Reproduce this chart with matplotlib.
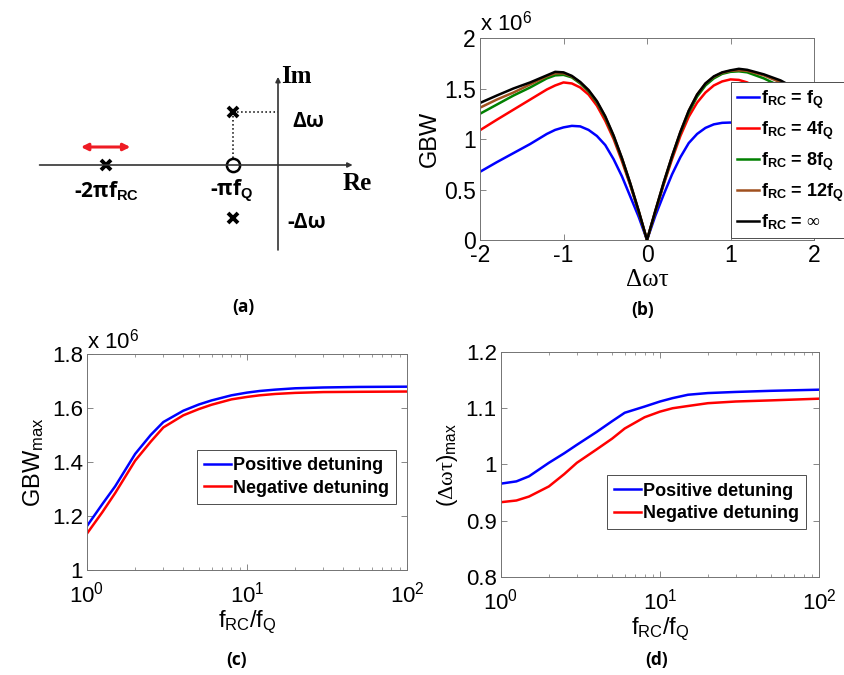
import matplotlib
matplotlib.use('Agg')
import matplotlib.pyplot as plt

plt.rcParams['font.family'] = ['Liberation Sans', 'DejaVu Sans']
plt.rcParams['axes.unicode_minus'] = False
plt.rcParams['mathtext.fontset'] = 'custom'
plt.rcParams['mathtext.rm'] = 'Liberation Serif'
plt.rcParams['mathtext.it'] = 'Liberation Serif'
plt.rcParams['mathtext.sf'] = 'Liberation Sans'
plt.rcParams['mathtext.bf'] = 'Liberation Sans:bold'

# (b) GBW against detuning, values in units of 1e6
dwt = [-2.0, -1.8, -1.6, -1.4, -1.2, -1.1, -1.0, -0.9, -0.8, -0.7, -0.6, -0.5,
       -0.4, -0.3, -0.2, -0.1, 0.0, 0.1, 0.2, 0.3, 0.4, 0.5, 0.6, 0.7, 0.8,
       0.9, 1.0, 1.1, 1.2, 1.4, 1.6, 1.8, 2.0]
gbw_1 = [0.675, 0.77, 0.86, 0.95, 1.05, 1.09, 1.115, 1.13, 1.125, 1.09, 1.03, 0.94,
         0.80, 0.63, 0.43, 0.23, 0.0, 0.24, 0.45, 0.65, 0.82, 0.96, 1.05, 1.11, 1.145,
         1.16, 1.163, 1.15, 1.12, 1.05, 0.98, 0.91, 0.84]
gbw_4 = [1.087, 1.19, 1.29, 1.39, 1.49, 1.53, 1.56, 1.55, 1.51, 1.44, 1.33, 1.18,
         1.00, 0.78, 0.54, 0.28, 0.0, 0.28, 0.55, 0.80, 1.03, 1.22, 1.36, 1.46, 1.53,
         1.57, 1.59, 1.585, 1.56, 1.47, 1.35, 1.22, 1.10]
gbw_8 = [1.25, 1.34, 1.43, 1.51, 1.60, 1.63, 1.635, 1.61, 1.55, 1.47, 1.36, 1.21,
         1.02, 0.80, 0.55, 0.28, 0.0, 0.28, 0.56, 0.82, 1.06, 1.26, 1.42, 1.53, 1.60,
         1.645, 1.665, 1.67, 1.66, 1.60, 1.52, 1.42, 1.32]
gbw_12 = [1.31, 1.39, 1.46, 1.54, 1.62, 1.65, 1.65, 1.62, 1.56, 1.48, 1.37, 1.22,
          1.03, 0.81, 0.56, 0.29, 0.0, 0.29, 0.57, 0.83, 1.07, 1.28, 1.44, 1.55, 1.615,
          1.655, 1.675, 1.68, 1.675, 1.63, 1.56, 1.47, 1.37]
gbw_inf = [1.357, 1.43, 1.50, 1.56, 1.63, 1.665, 1.66, 1.625, 1.565, 1.485, 1.375, 1.225,
           1.035, 0.81, 0.56, 0.29, 0.0, 0.29, 0.57, 0.83, 1.07, 1.28, 1.44, 1.55, 1.62,
           1.66, 1.68, 1.695, 1.685, 1.64, 1.58, 1.49, 1.39]
labels_b = [r'f$_{\mathbf{RC}}$ = f$_{\mathbf{Q}}$',
            r'f$_{\mathbf{RC}}$ = 4f$_{\mathbf{Q}}$',
            r'f$_{\mathbf{RC}}$ = 8f$_{\mathbf{Q}}$',
            r'f$_{\mathbf{RC}}$ = 12f$_{\mathbf{Q}}$',
            r'f$_{\mathbf{RC}}$ = $\infty$']
colors_b = ['#0000ff', '#ff0000', '#008000', '#a0501e', '#000000']

# (c), (d) peak GBW and its detuning against f_RC/f_Q
ratio = [1, 1.25, 1.5, 2, 2.5, 3, 4, 5, 6, 8, 10, 12, 15, 20, 30, 50, 100]
gbw_max_pos = [1.163, 1.245, 1.31, 1.43, 1.50, 1.548, 1.59, 1.613, 1.628, 1.647, 1.657,
               1.663, 1.668, 1.673, 1.676, 1.678, 1.679]
gbw_max_neg = [1.135, 1.215, 1.285, 1.405, 1.475, 1.528, 1.573, 1.596, 1.612, 1.632,
               1.641, 1.647, 1.652, 1.656, 1.659, 1.660, 1.661]
dwt_max_pos = [0.966, 0.970, 0.979, 1.003, 1.020, 1.035, 1.058, 1.077, 1.092, 1.103,
               1.112, 1.118, 1.124, 1.127, 1.129, 1.131, 1.133]
dwt_max_neg = [0.933, 0.936, 0.943, 0.961, 0.983, 1.003, 1.027, 1.046, 1.064, 1.084,
               1.094, 1.100, 1.104, 1.109, 1.112, 1.114, 1.117]
labels_cd = ['Positive detuning', 'Negative detuning']

# (a) pole-zero sketch, arbitrary units
pole_re = [-3.82, -1.0, -1.0]
pole_im = [0.0, 1.17, -1.17]
zero_re = [-1.0]
zero_im = [0.0]

W, H = 844, 675
fig = plt.figure(figsize=(W / 100, H / 100), dpi=100)


def px_axes(left, right, top, bottom):
    return fig.add_axes([left / W, 1 - bottom / H, (right - left) / W, (bottom - top) / H])


def matlab_style(ax, size, xpad=3):
    for s in ax.spines.values():
        s.set_color('0.45')
        s.set_linewidth(0.7)
    ax.tick_params(which='both', direction='in', top=True, right=True,
                   color='0.45', labelsize=size, pad=3)
    ax.tick_params(axis='x', pad=xpad)
    ax.tick_params(which='major', length=4, width=0.6)
    ax.tick_params(which='minor', length=2.5, width=0.5)


# ---- (a)
ax = px_axes(0, 422, 40, 290)
ax.set_xlim(-278 / 45, 144 / 45)
ax.set_ylim(-125 / 45, 125 / 45)
ax.axis('off')
ax.annotate('', xy=(1.72, 0), xytext=(-5.36, 0),
            arrowprops=dict(arrowstyle='-|>', lw=1.2, color='0.2', mutation_scale=7))
ax.annotate('', xy=(0, 2.02), xytext=(0, -1.95),
            arrowprops=dict(arrowstyle='-|>', lw=1.2, color='0.2', mutation_scale=7))
ax.plot([pole_re[1], 0], [pole_im[1], pole_im[1]], ':', color='k', lw=1.1)
ax.plot([pole_re[1], pole_re[1]], [zero_im[0] + 0.15, pole_im[1]], ':', color='k', lw=1.1)
ax.plot(pole_re, pole_im, 'x', ms=7, mew=2.8, color='k')
ax.plot(zero_re, zero_im, 'o', ms=9.5, mfc='white', mec='k', mew=1.8)
ax.annotate('', xy=(-4.38, 0.4), xytext=(-3.28, 0.4),
            arrowprops=dict(arrowstyle='<|-|>', lw=2.2, color='#ee1c24', mutation_scale=10,
                            shrinkA=0, shrinkB=0))
diag_font = dict(family=['Open Sans', 'DejaVu Sans'], weight='bold', size=15)
ax.text(0.07, 1.96, 'Im', family='Liberation Serif', weight='bold', size=18, va='center')
ax.text(1.44, -0.4, 'Re', family='Liberation Serif', weight='bold', size=18, va='center')
ax.text(0.31, 0.96, 'Δω', va='center', **diag_font)
ax.text(0.20, -1.27, '-Δω', va='center', **diag_font)
ax.text(-3.82, -0.57, r'-2πf$_{\mathbf{RC}}$', ha='center', va='center', **diag_font)
ax.text(-1.04, -0.57, r'-πf$_{\mathbf{Q}}$', ha='center', va='center', **diag_font)

# ---- (b)
ax = px_axes(480, 814, 38, 240)
for y, c, lab in zip([gbw_1, gbw_4, gbw_8, gbw_12, gbw_inf], colors_b, labels_b):
    ax.plot(dwt, y, color=c, lw=1.8, label=lab)
ax.set_xlim(-2, 2)
ax.set_ylim(0, 2)
ax.set_xticks([-2, -1, 0, 1, 2])
ax.set_yticks([0, 0.5, 1, 1.5, 2])
ax.set_yticklabels(['0', '0.5', '1', '1.5', '2'])
matlab_style(ax, 16.5)
ax.set_ylabel('GBW', fontsize=17, labelpad=2)
ax.set_xlabel('Δωτ', family='Liberation Serif', fontsize=18, labelpad=1)
ax.text(0.0, 1.01, r'x 10$^{\mathsf{6}}$', transform=ax.transAxes, fontsize=16,
        ha='left', va='bottom')
ax.legend(loc='lower left', bbox_to_anchor=(731 / W, 1 - 238 / H),
          bbox_transform=fig.transFigure, borderaxespad=0, fancybox=False,
          edgecolor='0.3', framealpha=1, prop=dict(weight='bold', size=13),
          handlelength=1.2, handletextpad=0.1, labelspacing=0.45, borderpad=0.35)
ax.get_legend().get_frame().set_linewidth(0.7)

# ---- (c)
ax = px_axes(87, 407, 354, 570)
ax.semilogx(ratio, gbw_max_pos, color='#0000ff', lw=1.8, label=labels_cd[0])
ax.semilogx(ratio, gbw_max_neg, color='#ff0000', lw=1.8, label=labels_cd[1])
ax.set_xlim(1, 100)
ax.set_ylim(1, 1.8)
ax.set_yticks([1, 1.2, 1.4, 1.6, 1.8])
ax.set_yticklabels(['1', '1.2', '1.4', '1.6', '1.8'])
matlab_style(ax, 16, xpad=8)
ax.set_ylabel(r'GBW$_{\mathsf{max}}$', fontsize=17, labelpad=4)
ax.set_xlabel(r'f$_{\mathsf{RC}}$/f$_{\mathsf{Q}}$', fontsize=17, labelpad=1)
ax.text(0.0, 1.0, r'x 10$^{\mathsf{6}}$', transform=ax.transAxes, fontsize=16,
        ha='left', va='bottom')
leg = ax.legend(loc='lower left', bbox_to_anchor=(0.344, 0.306), borderaxespad=0,
                fancybox=False, edgecolor='0.3', framealpha=1,
                prop=dict(weight='bold', size=13), handlelength=1.5,
                handletextpad=0.1, labelspacing=0.3, borderpad=0.4)
leg.get_frame().set_linewidth(0.7)

# ---- (d)
ax = px_axes(501, 819, 352, 577)
ax.semilogx(ratio, dwt_max_pos, color='#0000ff', lw=1.8, label=labels_cd[0])
ax.semilogx(ratio, dwt_max_neg, color='#ff0000', lw=1.8, label=labels_cd[1])
ax.set_xlim(1, 100)
ax.set_ylim(0.8, 1.2)
ax.set_yticks([0.8, 0.9, 1.0, 1.1, 1.2])
ax.set_yticklabels(['0.8', '0.9', '1', '1.1', '1.2'])
matlab_style(ax, 16, xpad=8)
ax.set_ylabel(r'($\Delta\omega\tau$)$_{\mathsf{max}}$', fontsize=16, labelpad=4)
ax.set_xlabel(r'f$_{\mathsf{RC}}$/f$_{\mathsf{Q}}$', fontsize=17, labelpad=1)
leg = ax.legend(loc='lower left', bbox_to_anchor=(0.333, 0.212), borderaxespad=0,
                fancybox=False, edgecolor='0.3', framealpha=1,
                prop=dict(weight='bold', size=13), handlelength=1.5,
                handletextpad=0.1, labelspacing=0.3, borderpad=0.4)
leg.get_frame().set_linewidth(0.7)

# panel tags
tag_font = dict(family=['Open Sans', 'DejaVu Sans'], weight='bold', size=12.5,
                ha='center', va='center')
fig.text(243 / W, 1 - 307 / H, '(a)', **tag_font)
fig.text(643 / W, 1 - 310 / H, '(b)', **tag_font)
fig.text(237 / W, 1 - 660 / H, '(c)', **tag_font)
fig.text(657 / W, 1 - 660 / H, '(d)', **tag_font)

fig.savefig('out.png', dpi=100)
